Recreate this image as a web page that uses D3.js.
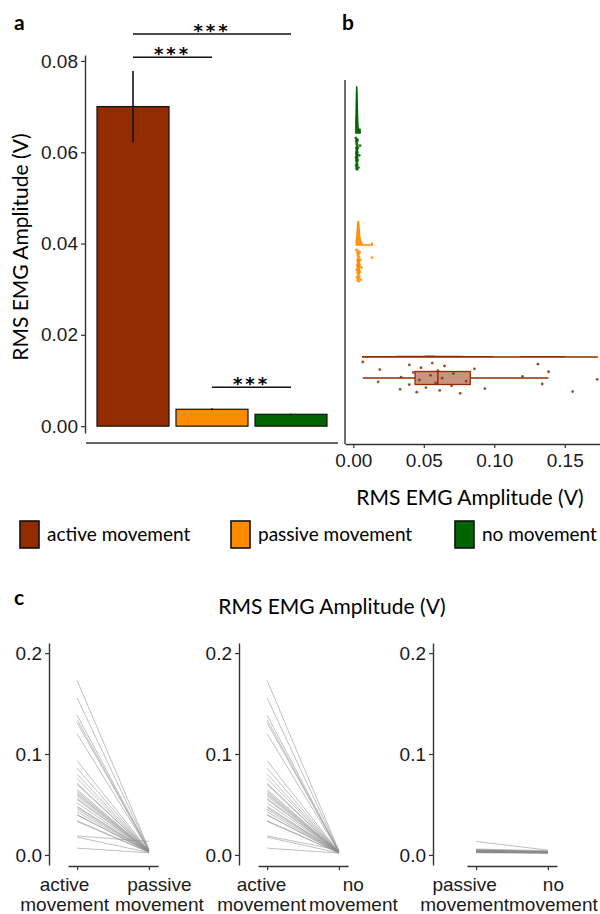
<!DOCTYPE html>
<html>
<head>
<meta charset="utf-8">
<script src="https://cdn.jsdelivr.net/npm/d3@7"></script>
<style>
  body { margin: 0; background: #fff; }
  svg { font-family: Lato, "DejaVu Sans", sans-serif; }
</style>
</head>
<body>
<svg id="chart" width="600" height="914"></svg>
<script>
// conditions and colours
const conditions = ["active movement", "passive movement", "no movement"];
const condColors = ["#932b00", "#ff8c00", "#006400"];

// panel a: mean RMS and standard error
const barMeans = [0.0700, 0.0037, 0.0026];
const barSE = [0.0078, 0.0002, 0.0001];
// significance brackets [from, to, height]
const sigBrackets = [[0, 2, 0.0859], [0, 1, 0.0808], [1, 2, 0.0085]];

// per subject RMS values (same order in every array)
const activeRMS = [0.0067, 0.0176, 0.0188, 0.0332, 0.0339, 0.0397, 0.0397, 0.0426, 0.0450, 0.0469,
  0.0480, 0.0515, 0.0548, 0.0560, 0.0584, 0.0600, 0.0613, 0.0630, 0.0647, 0.0697,
  0.0710, 0.0758, 0.0800, 0.0859, 0.0933, 0.1200, 0.1310, 0.1340, 0.1385, 0.1556, 0.1730];
const passiveRMS = [0.0021, 0.0024, 0.0133, 0.0026, 0.0028, 0.0029, 0.0030, 0.0030, 0.0031, 0.0032,
  0.0032, 0.0033, 0.0034, 0.0034, 0.0035, 0.0035, 0.0036, 0.0036, 0.0037, 0.0038,
  0.0038, 0.0039, 0.0040, 0.0041, 0.0042, 0.0043, 0.0045, 0.0047, 0.0050, 0.0053, 0.0058];
const noRMS = [0.0018, 0.0019, 0.0048, 0.0020, 0.0021, 0.0021, 0.0022, 0.0022, 0.0023, 0.0023,
  0.0023, 0.0024, 0.0024, 0.0024, 0.0024, 0.0025, 0.0025, 0.0025, 0.0026, 0.0026,
  0.0026, 0.0027, 0.0027, 0.0028, 0.0028, 0.0029, 0.0030, 0.0031, 0.0033, 0.0036, 0.0042];
const subjectData = [activeRMS, passiveRMS, noRMS];

// tick labels
const ticksA = [0, 0.02, 0.04, 0.06, 0.08];
const ticksB = [0, 0.05, 0.10, 0.15];
const ticksC = [0, 0.1, 0.2];
// panel c comparisons
const pairs = [[0, 1], [0, 2], [1, 2]];

const axisCol = "#333";
const tickFont = 19;
const titleFont = 21;
const svg = d3.select("#chart");

function styleAxis(g) {
  g.select(".domain").attr("stroke", axisCol).attr("stroke-width", 1.4);
  g.selectAll(".tick line").attr("stroke", axisCol).attr("stroke-width", 1.2);
  g.selectAll(".tick text").attr("fill", "#1a1a1a").attr("font-size", tickFont);
}

// panel labels
[["a", 14, 30], ["b", 342, 30], ["c", 14, 605]].forEach(([t, x, y]) => {
  svg.append("text").attr("x", x).attr("y", y).attr("font-size", 21)
    .attr("font-weight", "bold").text(t);
});

// ---------------- panel a ----------------
const ya = d3.scaleLinear().domain([-0.0015, 0.0813]).range([433, 55]);
const xa = d3.scaleBand().domain(conditions).range([93.5, 330.5])
  .paddingInner(0.0886).paddingOuter(0.0443);

const gA = svg.append("g");
gA.append("g").attr("transform", "translate(85,0)")
  .call(d3.axisLeft(ya).tickValues(ticksA).tickFormat(d3.format(".2f")).tickSize(4).tickSizeOuter(0))
  .call(styleAxis);
gA.append("line").attr("x1", 86).attr("x2", 338).attr("y1", 443).attr("y2", 443)
  .attr("stroke", axisCol).attr("stroke-width", 1.4);

gA.selectAll("rect.bar").data(conditions).enter().append("rect")
  .attr("x", d => xa(d))
  .attr("width", xa.bandwidth())
  .attr("y", (d, i) => ya(barMeans[i]))
  .attr("height", (d, i) => ya(0) - ya(barMeans[i]))
  .attr("fill", (d, i) => condColors[i])
  .attr("stroke", "#111").attr("stroke-width", 1.2);

gA.selectAll("line.err").data(conditions).enter().append("line")
  .attr("x1", d => xa(d) + xa.bandwidth() / 2)
  .attr("x2", d => xa(d) + xa.bandwidth() / 2)
  .attr("y1", (d, i) => ya(barMeans[i] - barSE[i]))
  .attr("y2", (d, i) => ya(barMeans[i] + barSE[i]))
  .attr("stroke", "#111").attr("stroke-width", 1.6);

const mid = i => xa(conditions[i]) + xa.bandwidth() / 2;
sigBrackets.forEach(([a, b, h]) => {
  gA.append("line").attr("x1", mid(a)).attr("x2", mid(b))
    .attr("y1", ya(h)).attr("y2", ya(h)).attr("stroke", "#111").attr("stroke-width", 1.5);
  gA.append("text").attr("x", (mid(a) + mid(b)) / 2).attr("y", ya(h) + 3)
    .attr("text-anchor", "middle").attr("font-size", 18).attr("letter-spacing", 3)
    .attr("font-weight", "bold").attr("font-family", "DejaVu Sans").text("***");
});

svg.append("text").attr("transform", "translate(28,247) rotate(-90)")
  .attr("text-anchor", "middle").attr("font-size", titleFont).text("RMS EMG Amplitude (V)");

// ---------------- panel b ----------------
const xb = d3.scaleLinear().domain([-0.0059, 0.175]).range([345, 600]);
const yb = d3.scalePoint().domain(["no movement", "passive movement", "active movement"]).range([133, 357]);
const gB = svg.append("g");

gB.append("line").attr("x1", 345).attr("x2", 345).attr("y1", 80).attr("y2", 444)
  .attr("stroke", axisCol).attr("stroke-width", 1.4);
gB.append("g").attr("transform", "translate(0,444)")
  .call(d3.axisBottom(xb).tickValues(ticksB).tickFormat(d3.format(".2f")).tickSize(4).tickSizeOuter(0))
  .call(styleAxis)
  .selectAll(".tick text").attr("dy", "0.85em");
svg.append("text").attr("x", 470).attr("y", 505).attr("text-anchor", "middle")
  .attr("font-size", titleFont).text("RMS EMG Amplitude (V)");

// gaussian kernel density, bandwidth like R's nrd0, trimmed to data range
function kde(values, n) {
  const s = values.slice().sort(d3.ascending);
  const iqr = d3.quantile(s, 0.75) - d3.quantile(s, 0.25);
  const bw = 0.9 * Math.min(d3.deviation(s), iqr / 1.34) * Math.pow(s.length, -0.2);
  const lo = s[0], hi = s[s.length - 1];
  return d3.range(n).map(i => {
    const x = lo + (hi - lo) * i / (n - 1);
    const d = d3.mean(s, v => Math.exp(-0.5 * ((x - v) / bw) ** 2)) / (bw * Math.sqrt(2 * Math.PI));
    return [x, d];
  });
}
const dens = subjectData.map(v => kde(v, 600));
const maxD = d3.max(dens, d => d3.max(d, p => p[1]));
const maxH = 46;

conditions.forEach((c, k) => {
  const base = yb(c);
  const col = condColors[k];
  const area = d3.area().x(p => xb(p[0])).y0(base).y1(p => base - p[1] / maxD * maxH);
  gB.append("path").datum(dens[k]).attr("d", area)
    .attr("fill", col).attr("fill-opacity", 0.9)
    .attr("stroke", col).attr("stroke-width", 1.5);

  // jittered points
  const vals = subjectData[k];
  gB.selectAll(null).data(vals).enter().append("circle")
    .attr("cx", d => xb(d))
    .attr("cy", (d, i) => base + 21 + (((i * 0.618034) % 1) - 0.5) * 32)
    .attr("r", 1.4).attr("fill", col).attr("fill-opacity", 0.85);

  // horizontal boxplot
  const s = vals.slice().sort(d3.ascending);
  const q1 = d3.quantile(s, 0.25), q2 = d3.quantile(s, 0.5), q3 = d3.quantile(s, 0.75);
  const iqr = q3 - q1;
  const wLo = d3.min(s.filter(v => v >= q1 - 1.5 * iqr));
  const wHi = d3.max(s.filter(v => v <= q3 + 1.5 * iqr));
  const cy = base + 21;
  gB.append("line").attr("x1", xb(wLo)).attr("x2", xb(q1)).attr("y1", cy).attr("y2", cy)
    .attr("stroke", col).attr("stroke-width", 1.3);
  gB.append("line").attr("x1", xb(q3)).attr("x2", xb(wHi)).attr("y1", cy).attr("y2", cy)
    .attr("stroke", col).attr("stroke-width", 1.3);
  gB.append("rect").attr("x", xb(q1)).attr("width", xb(q3) - xb(q1))
    .attr("y", cy - 6.5).attr("height", 13)
    .attr("fill", col).attr("fill-opacity", 0.5).attr("stroke", col).attr("stroke-width", 1.3);
  gB.append("line").attr("x1", xb(q2)).attr("x2", xb(q2)).attr("y1", cy - 6.5).attr("y2", cy + 6.5)
    .attr("stroke", col).attr("stroke-width", 1.5);
});

// ---------------- legend ----------------
const legendX = [20, 231, 455];
conditions.forEach((c, k) => {
  svg.append("rect").attr("x", legendX[k]).attr("y", 521).attr("width", 19).attr("height", 27)
    .attr("fill", condColors[k]).attr("stroke", "#111").attr("stroke-width", 1.6);
  svg.append("text").attr("x", legendX[k] + 27).attr("y", 541).attr("font-size", 19).text(c);
});

// ---------------- panel c ----------------
svg.append("text").attr("x", 332).attr("y", 614).attr("text-anchor", "middle")
  .attr("font-size", titleFont).text("RMS EMG Amplitude (V)");

const yc = d3.scaleLinear().domain([-0.01, 0.21]).range([865, 643]);
const subAxisX = [49, 239, 433];
const subX0 = [68, 258, 467];
// labels are pushed apart so the two words do not run into each other
const labelShift = [[-13, 10], [-6, 14], [-12, 5]];

pairs.forEach(([a, b], p) => {
  const g = svg.append("g");
  const xc = d3.scalePoint().domain([conditions[a], conditions[b]])
    .range([subX0[p], subX0[p] + 90]).padding(0.127);

  g.append("g").attr("transform", `translate(${subAxisX[p]},0)`)
    .call(d3.axisLeft(yc).tickValues(ticksC).tickFormat(d3.format(".1f")).tickSize(4).tickSizeOuter(0))
    .call(styleAxis);

  const ax = g.append("g").attr("transform", "translate(0,866)")
    .call(d3.axisBottom(xc).tickSize(4).tickSizeOuter(0))
    .call(styleAxis);
  ax.selectAll(".tick text").each(function (d, j) {
    const words = d.split(" ");
    const t = d3.select(this).text(null).attr("dy", null).attr("y", 0);
    words.forEach((w, i) => t.append("tspan").attr("x", labelShift[p][j]).attr("y", 25 + i * 20).text(w));
  });

  activeRMS.forEach((_, i) => {
    g.append("line")
      .attr("x1", xc(conditions[a])).attr("y1", yc(subjectData[a][i]))
      .attr("x2", xc(conditions[b])).attr("y2", yc(subjectData[b][i]))
      .attr("stroke", "#8c8c8c").attr("stroke-opacity", 0.55).attr("stroke-width", 1);
  });
});
</script>
</body>
</html>
